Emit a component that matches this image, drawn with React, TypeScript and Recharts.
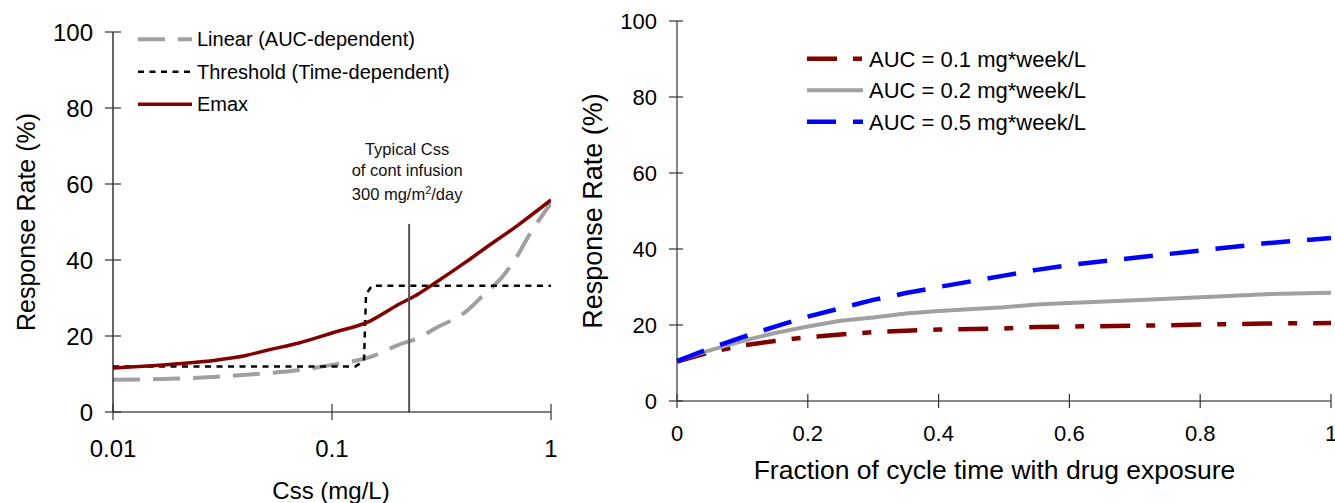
import React from 'react';
import { LineChart, Line, XAxis, YAxis, ReferenceLine, Legend, Label } from 'recharts';

const FONT = '"Liberation Sans", Arial, Helvetica, sans-serif';

// ---------- Left panel data ----------
const cssTicks = [0.01, 0.1, 1];
const rateTicks = [0, 20, 40, 60, 80, 100];

const linearName = 'Linear (AUC-dependent)';
const linearX = [0.01, 0.02, 0.03, 0.05, 0.07, 0.1, 0.15, 0.2, 0.25, 0.3, 0.4, 0.5, 0.6, 0.7, 0.8, 1];
const linearY = [8.5, 8.8, 9.3, 10.2, 11.0, 12.4, 14.5, 17.6, 19.6, 22.2, 26.0, 31.2, 35.6, 41.0, 46.8, 54.9];

const thresholdName = 'Threshold (Time-dependent)';
const thresholdX = [0.01, 0.128, 0.14, 0.143, 0.152, 1];
const thresholdY = [12, 12, 13.5, 31, 33.2, 33.2];

const emaxName = 'Emax';
const emaxX = [0.01, 0.015, 0.02, 0.03, 0.04, 0.05, 0.07, 0.1, 0.15, 0.2, 0.25, 0.3, 0.4, 0.5, 0.7, 1];
const emaxY = [11.6, 12.2, 12.7, 13.7, 14.8, 16.2, 18.1, 20.8, 24.0, 28.2, 31.2, 34.2, 39.1, 43.1, 49.0, 55.8];

const typicalCss = 0.225;
const typicalCssTop = 49.5;
const annotationLines = ['Typical Css', 'of cont infusion'];

// ---------- Right panel data ----------
const fracTicks = [0, 0.2, 0.4, 0.6, 0.8, 1];
const fracX = [0, 0.05, 0.1, 0.15, 0.2, 0.25, 0.3, 0.35, 0.4, 0.5, 0.55, 0.6, 0.7, 0.8, 0.9, 1];
const auc01Name = 'AUC = 0.1 mg*week/L';
const auc01 = [10.4, 12.8, 14.6, 15.8, 16.8, 17.5, 18.1, 18.5, 18.8, 19.1, 19.5, 19.6, 19.8, 20.1, 20.4, 20.5];
const auc02Name = 'AUC = 0.2 mg*week/L';
const auc02 = [10.6, 13.3, 15.8, 17.9, 19.6, 21.1, 22.0, 23.0, 23.7, 24.7, 25.4, 25.8, 26.5, 27.3, 28.1, 28.5];
const auc05Name = 'AUC = 0.5 mg*week/L';
const auc05 = [10.5, 13.8, 16.8, 19.6, 22.2, 24.4, 26.6, 28.4, 30.0, 33.0, 34.5, 35.8, 37.7, 39.6, 41.5, 42.9];

// ---------- build tables ----------
const pts = (xs: number[], ys: number[]) => xs.map((x, i) => ({ x, y: ys[i] }));
const linearData = pts(linearX, linearY);
const thresholdData = pts(thresholdX, thresholdY);
const emaxData = pts(emaxX, emaxY);
const rightData = fracX.map((x, i) => ({ x, a1: auc01[i], a2: auc02[i], a5: auc05[i] }));

type Sty = { stroke: string; width: number; dash?: string };
const leftStyles: Record<string, Sty> = {
  [linearName]: { stroke: '#A0A0A0', width: 4, dash: '27 13' },
  [thresholdName]: { stroke: '#000000', width: 2.5, dash: '6 5.5' },
  [emaxName]: { stroke: '#800000', width: 3.5 },
};
const rightStyles: Record<string, Sty> = {
  [auc01Name]: { stroke: '#800000', width: 4.5, dash: '30 16 9 16' },
  [auc02Name]: { stroke: '#A0A0A0', width: 4 },
  [auc05Name]: { stroke: '#0000FF', width: 4.5, dash: '29 17' },
};
const leftOrder = [linearName, thresholdName, emaxName];
const rightOrder = [auc01Name, auc02Name, auc05Name];

const makeLegend = (order: string[], styles: Record<string, Sty>, sampleW: number, rowH: number, fontSize: number, gap: number, width: number) =>
  (props: any) => {
    const items = [...(props.payload || [])].sort((a: any, b: any) => order.indexOf(a.value) - order.indexOf(b.value));
    return (
      <svg width={width} height={rowH * items.length} style={{ display: 'block', overflow: 'visible' }}>
        {items.map((it: any, i: number) => {
          const s = styles[it.value];
          const cy = rowH * i + rowH / 2;
          return (
            <g key={i}>
              <line x1={0} x2={sampleW} y1={cy} y2={cy} stroke={s.stroke} strokeWidth={s.width} strokeDasharray={s.dash} />
              <text x={sampleW + gap} y={cy} dy="0.36em" fontSize={fontSize} fontFamily={FONT} fill="#000">{it.value}</text>
            </g>
          );
        })}
      </svg>
    );
  };

// ---------- tick renderers ----------
const yTick = (fontSize: number, inner: number, outer: number, margin: number, color: string) => (p: any) => {
  const ax = p.x + margin + outer;
  return (
    <g>
      <line x1={ax - outer} x2={ax + inner} y1={p.y} y2={p.y} stroke={color} strokeWidth={1.2} />
      <text x={p.x} y={p.y} dy="0.36em" textAnchor="end" fontSize={fontSize} fontFamily={FONT} fill="#000">{p.payload.value}</text>
    </g>
  );
};
const xTick = (fontSize: number, size: number, base: number, color: string) => (p: any) => (
  <g>
    <line x1={p.x} x2={p.x} y1={p.y - 2 * size} y2={p.y} stroke={color} strokeWidth={1.2} />
    <text x={p.x} y={p.y + base} textAnchor="middle" fontSize={fontSize} fontFamily={FONT} fill="#000">{p.payload.value}</text>
  </g>
);

const AnnotationLabel = (props: any) => {
  const vb = props.viewBox || {};
  const cx = (vb.x || 0) + (vb.width || 0) / 2 - 2;
  const top = vb.y || 0;
  return (
    <text textAnchor="middle" fontSize={16.5} fontFamily={FONT} fill="#111">
      <tspan x={cx} y={top - 69}>{annotationLines[0]}</tspan>
      <tspan x={cx} y={top - 47.5}>{annotationLines[1]}</tspan>
      <tspan x={cx} y={top - 23.5}>300 mg/m</tspan>
      <tspan dy={-6} fontSize={11}>2</tspan>
      <tspan dy={6}>/day</tspan>
    </text>
  );
};

const VTitle = (cxOff: number, fontSize: number, text: string) => (props: any) => {
  const vb = props.viewBox || {};
  const cx = (vb.x || 0) + cxOff;
  const cy = (vb.y || 0) + (vb.height || 0) / 2;
  return (
    <text x={cx} y={cy} dy="0.36em" textAnchor="middle" transform={`rotate(-90 ${cx} ${cy})`} fontSize={fontSize} fontFamily={FONT} fill="#000">{text}</text>
  );
};
const HTitle = (dx: number, base: number, fontSize: number, text: string) => (props: any) => {
  const vb = props.viewBox || {};
  const cx = (vb.x || 0) + (vb.width || 0) / 2 + dx;
  return (
    <text x={cx} y={(vb.y || 0) + base} textAnchor="middle" fontSize={fontSize} fontFamily={FONT} fill="#000">{text}</text>
  );
};

export default function App() {
  return (
    <div style={{ position: 'absolute', left: 0, top: 0, width: 1335, height: 503, background: '#fff', fontFamily: FONT }}>
      <div style={{ position: 'absolute', left: 0, top: 0 }}>
        <LineChart width={560} height={503} margin={{ top: 32, right: 9, bottom: 0, left: 0 }}>
          <XAxis dataKey="x" type="number" scale="log" domain={[0.01, 1]} ticks={cssTicks} interval={0}
            height={91} tickSize={8} tickMargin={0} tickLine={false} axisLine={{ stroke: '#000', strokeWidth: 1.2 }}
            tick={xTick(24, 8, 37, '#333')} allowDataOverflow>
            <Label content={HTitle(-1, 87, 24, 'Css (mg/L)')} />
          </XAxis>
          <YAxis type="number" domain={[0, 100]} ticks={rateTicks} interval={0} width={113}
            tickSize={8} tickMargin={12} tickLine={false} axisLine={{ stroke: '#000', strokeWidth: 1.2 }}
            tick={yTick(24, 8, 8, 12, '#333')}>
            <Label content={VTitle(26, 25, 'Response Rate (%)')} />
          </YAxis>
          <Legend layout="vertical" align="center" verticalAlign="middle"
            wrapperStyle={{ left: 138, top: 23, width: 340, height: 100 }}
            content={makeLegend(leftOrder, leftStyles, 54, 32.5, 20, 5, 340)} />
          <Line data={linearData} dataKey="y" name={linearName} type="monotone" stroke={leftStyles[linearName].stroke}
            strokeWidth={leftStyles[linearName].width} strokeDasharray={leftStyles[linearName].dash} dot={false} isAnimationActive={false} />
          <Line data={thresholdData} dataKey="y" name={thresholdName} type="linear" stroke={leftStyles[thresholdName].stroke}
            strokeWidth={leftStyles[thresholdName].width} strokeDasharray={leftStyles[thresholdName].dash} dot={false} isAnimationActive={false} />
          <Line data={emaxData} dataKey="y" name={emaxName} type="monotone" stroke={leftStyles[emaxName].stroke}
            strokeWidth={leftStyles[emaxName].width} dot={false} isAnimationActive={false} />
          <ReferenceLine segment={[{ x: typicalCss, y: 0 }, { x: typicalCss, y: typicalCssTop }]} stroke="#555" strokeWidth={2}
            label={<AnnotationLabel />} />
        </LineChart>
      </div>
      <div style={{ position: 'absolute', left: 560, top: 0 }}>
        <LineChart width={775} height={503} data={rightData} margin={{ top: 21, right: 4, bottom: 0, left: 0 }}>
          <XAxis dataKey="x" type="number" domain={[0, 1]} ticks={fracTicks} interval={0}
            height={102} tickSize={7} tickMargin={0} tickLine={false} axisLine={{ stroke: '#888', strokeWidth: 2 }}
            tick={xTick(22, 7, 33, '#333')}>
            <Label content={HTitle(-9.5, 78, 26.5, 'Fraction of cycle time with drug exposure')} />
          </XAxis>
          <YAxis type="number" domain={[0, 100]} ticks={rateTicks} interval={0} width={117}
            tickSize={8} tickMargin={12} tickLine={false} axisLine={{ stroke: '#333', strokeWidth: 1.2 }}
            tick={yTick(22, 6, 8, 12, '#333')}>
            <Label content={VTitle(32.5, 27, 'Response Rate (%)')} />
          </YAxis>
          <Legend layout="vertical" align="center" verticalAlign="middle"
            wrapperStyle={{ left: 247, top: 43, width: 330, height: 95 }}
            content={makeLegend(rightOrder, rightStyles, 56, 31.5, 22, 6, 330)} />
          <Line dataKey="a1" name={auc01Name} type="linear" stroke={rightStyles[auc01Name].stroke}
            strokeWidth={rightStyles[auc01Name].width} strokeDasharray={rightStyles[auc01Name].dash} dot={false} isAnimationActive={false} />
          <Line dataKey="a2" name={auc02Name} type="linear" stroke={rightStyles[auc02Name].stroke}
            strokeWidth={rightStyles[auc02Name].width} dot={false} isAnimationActive={false} />
          <Line dataKey="a5" name={auc05Name} type="linear" stroke={rightStyles[auc05Name].stroke}
            strokeWidth={rightStyles[auc05Name].width} strokeDasharray={rightStyles[auc05Name].dash} dot={false} isAnimationActive={false} />
        </LineChart>
      </div>
    </div>
  );
}
